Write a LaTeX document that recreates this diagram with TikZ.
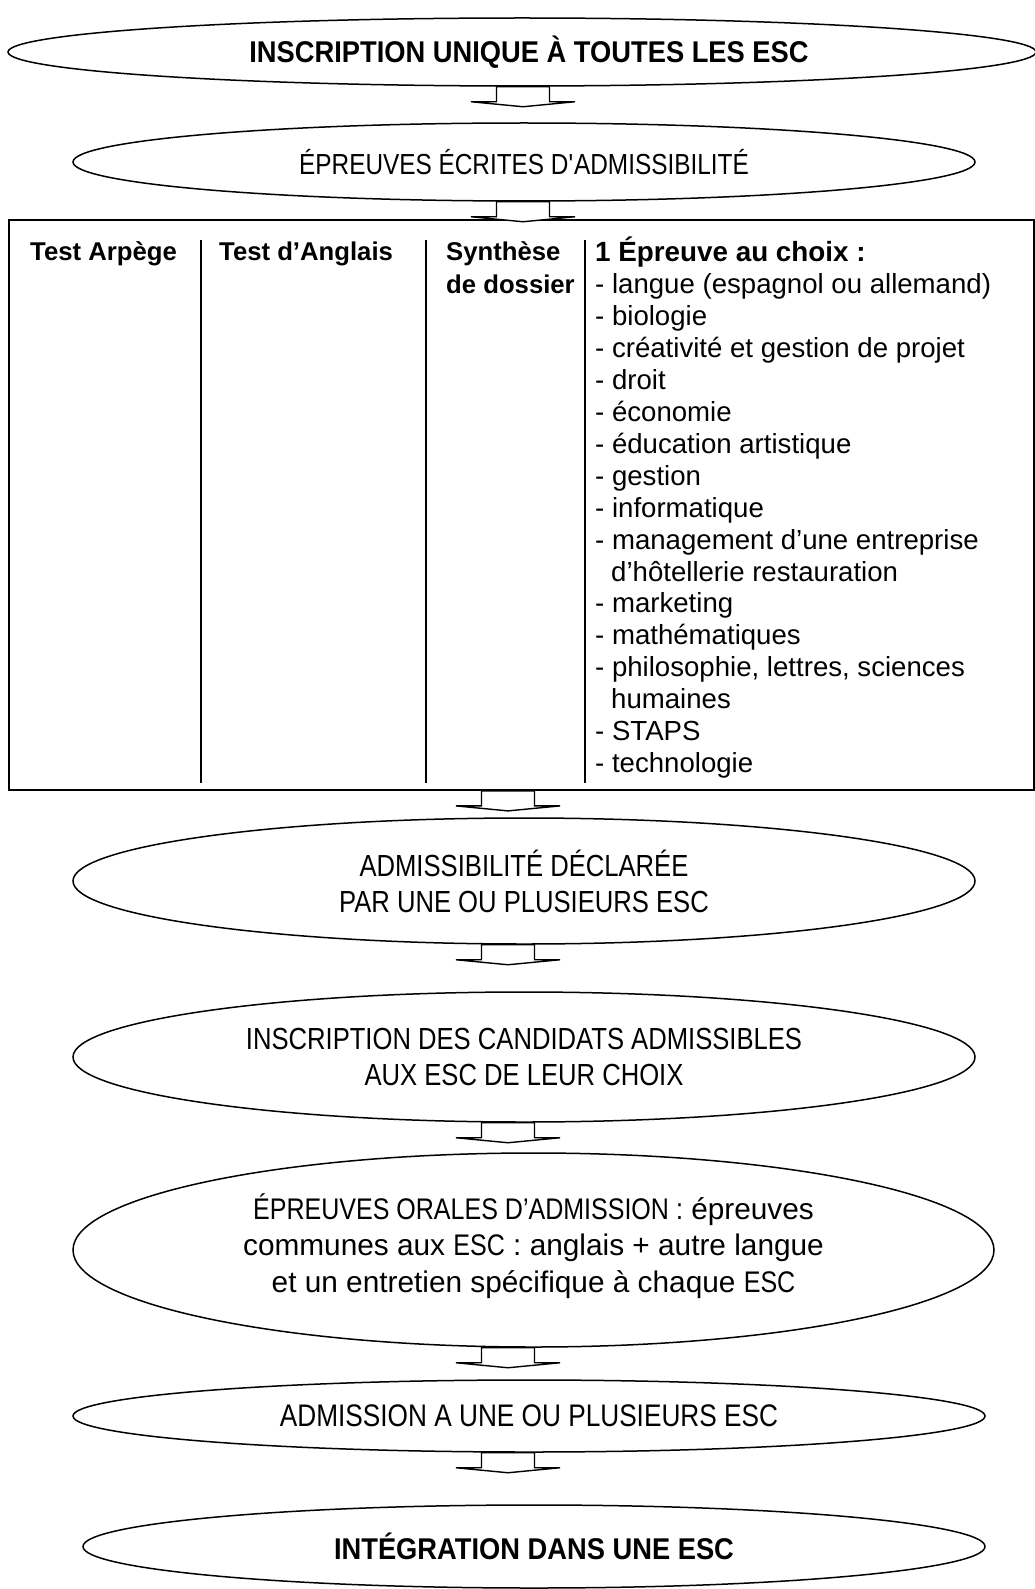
\documentclass[tikz,border=0pt]{standalone}
\usepackage{fontspec}
\setmainfont{Liberation Sans}
\newfontfamily\capsfont{Liberation Sans}[FakeStretch=0.84]
\newfontfamily\bcapsfont{Liberation Sans}[FakeStretch=0.91]
\usetikzlibrary{shapes.geometric}
\tikzset{
  ell/.style={draw, ellipse, line width=1.5pt, inner sep=0pt, align=center,
    font=\capsfont\fontsize{30.5}{36}\selectfont},
  mixell/.style={ell, font=\fontsize{29.8}{36.5}\selectfont},
  bell/.style={ell, font=\bcapsfont\bfseries\fontsize{30}{36}\selectfont},
  hdr/.style={anchor=mid west, inner sep=0pt, font=\fontsize{25.7}{30}\selectfont\bfseries},
  item/.style={anchor=mid west, inner sep=0pt, font=\fontsize{27.6}{30}\selectfont},
  sepline/.style={line width=1.3pt},
  boxstyle/.style={draw, rectangle, line width=1.8pt, inner sep=0pt},
  blockarr/.pic={\draw[line width=1.4pt, fill=white, line join=miter]
    (-26.5,0) -- (-26.5,15) -- (-52,15) -- (0,20) -- (52,15) -- (26.5,15) -- (26.5,0) -- cycle;}
}
\begin{document}
\begin{tikzpicture}[x=1pt,y=-1pt]
\useasboundingbox[fill=white] (0,0) rectangle (1035,1589);

% ellipses
\node[bell, minimum width=1028pt, minimum height=68pt] (e1) at (522,52) {\hspace*{14pt}INSCRIPTION UNIQUE À TOUTES LES ESC};
\node[ell, minimum width=902pt, minimum height=78pt, font=\capsfont\fontsize{29}{36}\selectfont] (e2) at (524,162) {ÉPREUVES ÉCRITES D\textquotesingle ADMISSIBILITÉ};
\node[ell, minimum width=902pt, minimum height=126pt] (e3) at (524,881) {ADMISSIBILITÉ DÉCLARÉE\\PAR UNE OU PLUSIEURS ESC};
\node[ell, minimum width=902pt, minimum height=130pt] (e4) at (524,1057) {INSCRIPTION DES CANDIDATS ADMISSIBLES\\AUX ESC DE LEUR CHOIX};
\node[mixell, minimum width=921pt, minimum height=194pt, text depth=14pt] (e5) at (533.5,1250)
  {{\capsfont ÉPREUVES ORALES D’ADMISSION :} épreuves\\communes aux {\capsfont ESC} : anglais + autre langue\\et un entretien spécifique à chaque {\capsfont ESC}};
\node[ell, minimum width=912pt, minimum height=72pt, font=\capsfont\fontsize{31.2}{36}\selectfont] (e6) at (529,1416) {ADMISSION A UNE OU PLUSIEURS ESC};
\node[bell, minimum width=902pt, minimum height=83pt] (e7) at (534,1546.5) {INTÉGRATION DANS UNE ESC};

% box of written tests
\node[boxstyle, minimum width=1025pt, minimum height=570pt] (box) at (521.5,505) {};
\draw[sepline] (201,240) -- (201,783);
\draw[sepline] (426,240) -- (426,783);
\draw[sepline] (585,240) -- (585,783);

\node[hdr] (h1) at (30,258) {Test Arpège};
\node[hdr] (h2) at (219,258) {Test d’Anglais};
\node[hdr] (h3) at (446,258) {Synthèse};
\node[hdr] (h3b) at (446,291) {de dossier};
\node[hdr, font=\fontsize{27.8}{30}\selectfont\bfseries] (h4) at (595,259) {1 Épreuve au choix :};

\foreach \t/\dx [count=\i] in {
  {- langue (espagnol ou allemand)}/0,
  {- biologie}/0,
  {- créativité et gestion de projet}/0,
  {- droit}/0,
  {- économie}/0,
  {- éducation artistique}/0,
  {- gestion}/0,
  {- informatique}/0,
  {- management d’une entreprise}/0,
  {d’hôtellerie restauration}/16,
  {- marketing}/0,
  {- mathématiques}/0,
  {- philosophie, lettres, sciences}/0,
  {humaines}/16,
  {- STAPS}/0,
  {- technologie}/0}
  \node[item] (l\i) at (595+\dx, 291+31.93*\i-31.93) {\t};

% block arrows
\pic at ([xshift=1pt]e1.south) {blockarr};
\pic at ([xshift=-1pt]e2.south) {blockarr};
\pic at ([xshift=-13.5pt]box.south) {blockarr};
\pic at ([xshift=-16pt]e3.south) {blockarr};
\pic at ([xshift=-16pt]e4.south) {blockarr};
\pic at ([xshift=-25.5pt]e5.south) {blockarr};
\pic at ([xshift=-21pt]e6.south) {blockarr};
\end{tikzpicture}
\end{document}
